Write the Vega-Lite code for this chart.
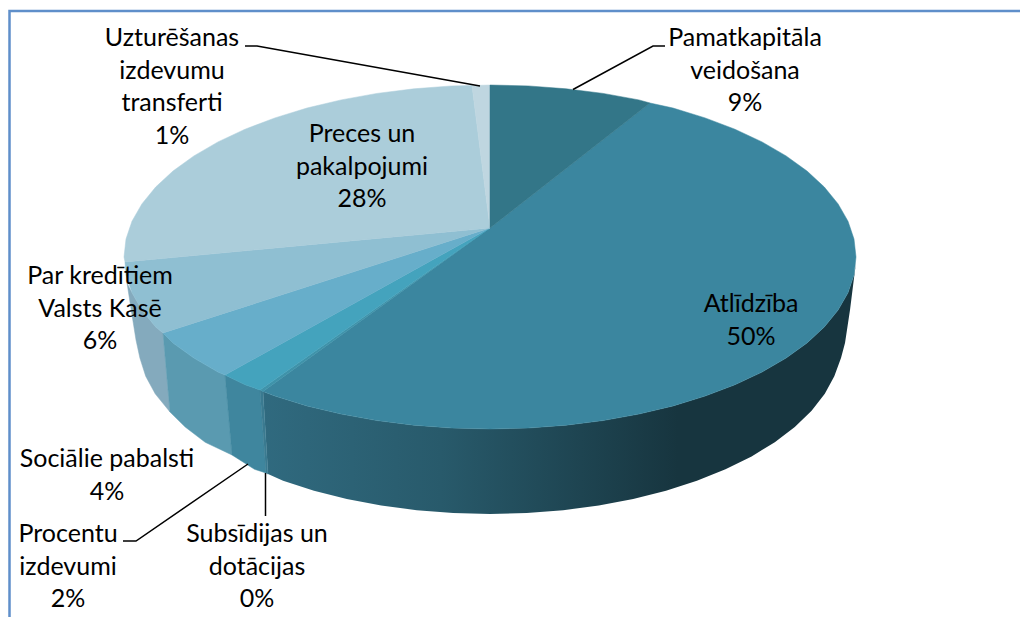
{"$schema":"https://vega.github.io/schema/vega-lite/v6.json","width":1020,"height":617,"padding":0,"autosize":{"type":"none"},"background":"white","config":{"view":{"stroke":null}},
"datasets":{
"walls":[
{"type":"Feature","slice":"Par kredītiem wall","geometry":{"type":"Polygon","coordinates":[[[127,283],[132,292.8],[141.9,310.1],[155.7,327],[163,333],[170,412],[155.2,393.8],[145.7,376.2],[139.9,358],[136,340],[132,315],[127,283]]]}},
{"type":"Feature","slice":"Sociālie wall","geometry":{"type":"Polygon","coordinates":[[[163,333],[173,343],[193.9,358.1],[218,372.1],[225,375],[232,455],[205.2,442.3],[185.2,427],[170,412],[163,333]]]}},
{"type":"Feature","slice":"Procentu wall","geometry":{"type":"Polygon","coordinates":[[[225,375],[245.1,384.8],[260,390],[266,473],[254.5,469.3],[232,455],[225,375]]]}},
{"type":"Feature","slice":"Subsīdijas wall","geometry":{"type":"Polygon","coordinates":[[[260,390],[263,391.5],[268,474],[266,473],[260,390]]]}}
],
"mainwall":[
{"type":"Feature","slice":"Atlīdzība wall","geometry":{"type":"Polygon","coordinates":[[[856,262],[854,275],[848,292.8],[838.1,310.1],[824.3,327],[807,343],[786.1,358.1],[762,372.1],[734.9,384.8],[705.1,396.1],[673,406],[638.9,414.1],[603.1,420.6],[566.1,425.2],[528.2,428.1],[490,429],[451.8,428.1],[413.9,425.2],[376.9,420.6],[341.1,414.1],[307,406],[274.9,396.1],[263,391.5],[268,474],[283.1,480.8],[314,490.7],[346.8,499],[381.2,505.5],[416.8,510.2],[453.2,513],[490,514],[526.8,513],[563.2,510.2],[598.8,505.5],[633.2,499],[666,490.7],[696.9,480.8],[725.5,469.3],[751.6,456.4],[774.8,442.3],[794.8,427],[811.6,410.8],[824.8,393.8],[834.3,376.2],[841,358],[845,343],[850,310],[856,262]]]}}
],
"slices":[
{"type":"Feature","slice":"Atlīdzība","share":50,"geometry":{"type":"Polygon","coordinates":[[[490,228],[650,103],[673,108],[705.1,117.9],[734.9,129.2],[762,141.9],[786.1,155.9],[807,171],[824.3,187],[838.1,203.9],[848,221.2],[854,239],[856,257],[854,275],[848,292.8],[838.1,310.1],[824.3,327],[807,343],[786.1,358.1],[762,372.1],[734.9,384.8],[705.1,396.1],[673,406],[638.9,414.1],[603.1,420.6],[566.1,425.2],[528.2,428.1],[490,429],[451.8,428.1],[413.9,425.2],[376.9,420.6],[341.1,414.1],[307,406],[274.9,396.1],[263,391.5],[490,228]]]}},
{"type":"Feature","slice":"Subsīdijas un dotācijas","share":0,"geometry":{"type":"Polygon","coordinates":[[[490,228],[263,391.5],[260,390],[490,228]]]}},
{"type":"Feature","slice":"Procentu izdevumi","share":2,"geometry":{"type":"Polygon","coordinates":[[[490,228],[260,390],[245.1,384.8],[225,375],[490,228]]]}},
{"type":"Feature","slice":"Sociālie pabalsti","share":4,"geometry":{"type":"Polygon","coordinates":[[[490,228],[225,375],[218,372.1],[193.9,358.1],[173,343],[163,333],[490,228]]]}},
{"type":"Feature","slice":"Par kredītiem Valsts Kasē","share":6,"geometry":{"type":"Polygon","coordinates":[[[490,228],[163,333],[155.7,327],[141.9,310.1],[132,292.8],[126,275],[125,262],[490,228]]]}},
{"type":"Feature","slice":"Preces un pakalpojumi","share":28,"geometry":{"type":"Polygon","coordinates":[[[490,228],[125,262],[124,257],[126,239],[132,221.2],[141.9,203.9],[155.7,187],[173,171],[193.9,155.9],[218,141.9],[245.1,129.2],[274.9,117.9],[307,108],[341.1,99.9],[376.9,93.4],[413.9,88.8],[451.8,85.9],[472,85.5],[490,228]]]}},
{"type":"Feature","slice":"Uzturēšanas izdevumu transferti","share":1,"geometry":{"type":"Polygon","coordinates":[[[490,228],[472,85.5],[490,85],[490,228]]]}},
{"type":"Feature","slice":"Pamatkapitāla veidošana","share":9,"geometry":{"type":"Polygon","coordinates":[[[490,228],[490,85],[528.2,85.9],[566.1,88.8],[603.1,93.4],[638.9,99.9],[650,103],[490,228]]]}}
],
"leaders":[
{"leader":"Pamatkapitāla","step":1,"x":573,"y":89.5},{"leader":"Pamatkapitāla","step":2,"x":653,"y":46},{"leader":"Pamatkapitāla","step":3,"x":665,"y":46},
{"leader":"Uzturēšanas","step":1,"x":245,"y":46},{"leader":"Uzturēšanas","step":2,"x":257,"y":46},{"leader":"Uzturēšanas","step":3,"x":480,"y":86},
{"leader":"Procentu","step":1,"x":123,"y":541},{"leader":"Procentu","step":2,"x":136,"y":541},{"leader":"Procentu","step":3,"x":248,"y":464},
{"leader":"Subsīdijas","step":1,"x":265.5,"y":473},{"leader":"Subsīdijas","step":2,"x":265.5,"y":516}
],
"frame":[{"step":1,"x":9.5,"y":617},{"step":2,"x":9.5,"y":11},{"step":3,"x":1020,"y":11}],
"labels":[
{"label":"Pamatkapitāla\nveidošana\n9%","x":745,"y":46},
{"label":"Uzturēšanas\nizdevumu\ntransferti\n1%","x":172,"y":46},
{"label":"Preces un\npakalpojumi\n28%","x":362,"y":142},
{"label":"Atlīdzība\n50%","x":751,"y":312},
{"label":"Par kredītiem\nValsts Kasē\n6%","x":100,"y":284},
{"label":"Sociālie pabalsti\n4%","x":107,"y":467},
{"label":"Procentu\nizdevumi\n2%","x":68,"y":542},
{"label":"Subsīdijas un\ndotācijas\n0%","x":257,"y":542}
]},
"layer":[
{"data":{"name":"frame"},"mark":{"type":"line","color":"#5f8fca","strokeWidth":2.5},"encoding":{"x":{"field":"x","type":"quantitative","scale":{"domain":[0,1020],"nice":false,"zero":false},"axis":null},"y":{"field":"y","type":"quantitative","scale":{"domain":[617,0],"nice":false,"zero":false},"axis":null},"order":{"field":"step"}}},
{"data":{"name":"mainwall"},"projection":{"type":"identity","scale":1,"translate":[0,0]},"mark":{"type":"geoshape","stroke":null,"fill":{"gradient":"linear","x1":0,"y1":0,"x2":1,"y2":0,"stops":[{"offset":0,"color":"#306a7f"},{"offset":0.3,"color":"#285a6b"},{"offset":0.7,"color":"#17353f"},{"offset":1,"color":"#17353f"}]}}},
{"data":{"name":"walls"},"projection":{"type":"identity","scale":1,"translate":[0,0]},"mark":{"type":"geoshape","strokeWidth":0.5},"encoding":{"fill":{"field":"slice","type":"nominal","legend":null,"scale":{"domain":["Par kredītiem wall","Sociālie wall","Procentu wall","Subsīdijas wall"],"range":["#84aabd","#5a9ab0","#3f869e","#3a7a90"]}},"stroke":{"field":"slice","type":"nominal","legend":null,"scale":{"domain":["Par kredītiem wall","Sociālie wall","Procentu wall","Subsīdijas wall"],"range":["#84aabd","#5a9ab0","#3f869e","#3a7a90"]}}}},
{"data":{"name":"slices"},"projection":{"type":"identity","scale":1,"translate":[0,0]},"mark":{"type":"geoshape","strokeWidth":0.5},"encoding":{"fill":{"field":"slice","type":"nominal","legend":null,"scale":{"domain":["Atlīdzība","Subsīdijas un dotācijas","Procentu izdevumi","Sociālie pabalsti","Par kredītiem Valsts Kasē","Preces un pakalpojumi","Uzturēšanas izdevumu transferti","Pamatkapitāla veidošana"],"range":["#3b869f","#3f93aa","#44a3bd","#67aeca","#8fbfd2","#abcdda","#bfd6e0","#337688"]}},"stroke":{"field":"slice","type":"nominal","legend":null,"scale":{"domain":["Atlīdzība","Subsīdijas un dotācijas","Procentu izdevumi","Sociālie pabalsti","Par kredītiem Valsts Kasē","Preces un pakalpojumi","Uzturēšanas izdevumu transferti","Pamatkapitāla veidošana"],"range":["#3b869f","#3f93aa","#44a3bd","#67aeca","#8fbfd2","#abcdda","#bfd6e0","#337688"]}}}},
{"data":{"name":"leaders"},"mark":{"type":"line","color":"#000000","strokeWidth":1.5},"encoding":{"x":{"field":"x","type":"quantitative","scale":{"domain":[0,1020],"nice":false,"zero":false},"axis":null},"y":{"field":"y","type":"quantitative","scale":{"domain":[617,0],"nice":false,"zero":false},"axis":null},"detail":{"field":"leader"},"order":{"field":"step"}}},
{"data":{"name":"labels"},"mark":{"type":"text","font":"Lato","fontSize":25,"lineHeight":32.6,"lineBreak":"\n","align":"center","baseline":"alphabetic","color":"#000000"},"encoding":{"x":{"field":"x","type":"quantitative","scale":{"domain":[0,1020],"nice":false,"zero":false},"axis":null},"y":{"field":"y","type":"quantitative","scale":{"domain":[617,0],"nice":false,"zero":false},"axis":null},"text":{"field":"label"}}}
],
"resolve":{"scale":{"fill":"independent","stroke":"independent"}}}
